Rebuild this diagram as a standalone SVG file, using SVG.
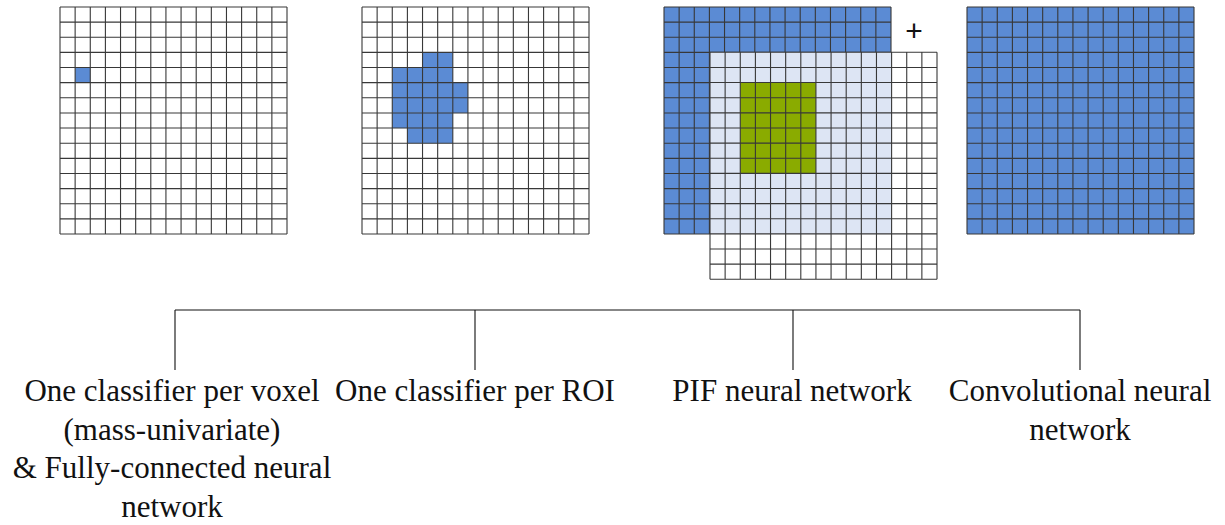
<svg xmlns="http://www.w3.org/2000/svg" xmlns:xlink="http://www.w3.org/1999/xlink" width="1225" height="525" viewBox="0 0 1225 525">
<style>
.grid{fill:none;stroke:#383838;stroke-width:1.1}
.blue{fill:#5b8bd4}
.light{fill:#dde5f4}
.green{fill:#8aab00}
.white{fill:#ffffff}
.lbl{font-size:31px;fill:#111;text-anchor:middle}
.conn{stroke:#111;stroke-width:1.1;fill:none}
</style>
<defs>
<path id="gl" d="M0 0V227M15.13 0V227M30.27 0V227M45.4 0V227M60.53 0V227M75.67 0V227M90.8 0V227M105.93 0V227M121.07 0V227M136.2 0V227M151.33 0V227M166.47 0V227M181.6 0V227M196.73 0V227M211.87 0V227M227 0V227M0 0H227M0 15.13H227M0 30.27H227M0 45.4H227M0 60.53H227M0 75.67H227M0 90.8H227M0 105.93H227M0 121.07H227M0 136.2H227M0 151.33H227M0 166.47H227M0 181.6H227M0 196.73H227M0 211.87H227M0 227H227"/>
</defs>
<rect width="1225" height="525" fill="#ffffff"/>
<g id="grid-voxel">
<rect class="white" x="60" y="7" width="227" height="227"/>
<rect class="blue" x="75.13" y="67.53" width="15.13" height="15.13"/>
<use href="#gl" xlink:href="#gl" class="grid" x="60" y="7"/>
</g>
<g id="grid-roi">
<rect class="white" x="362" y="7" width="227" height="227"/>
<rect class="blue" x="422.53" y="52.4" width="30.27" height="15.13"/>
<rect class="blue" x="392.27" y="67.53" width="60.53" height="15.13"/>
<rect class="blue" x="392.27" y="82.67" width="75.67" height="30.27"/>
<rect class="blue" x="392.27" y="112.93" width="60.53" height="15.13"/>
<rect class="blue" x="407.4" y="128.07" width="45.4" height="15.13"/>
<use href="#gl" xlink:href="#gl" class="grid" x="362" y="7"/>
</g>
<g id="grid-pif">
<rect class="blue" x="664" y="7" width="227" height="227"/>
<use href="#gl" xlink:href="#gl" class="grid" x="664" y="7"/>
<rect class="white" x="710" y="52.3" width="227" height="227"/>
<rect class="light" x="710" y="52.3" width="181.6" height="181.6"/>
<rect class="green" x="740.27" y="82.57" width="75.67" height="90.8"/>
<use href="#gl" xlink:href="#gl" class="grid" x="710" y="52.3"/>
<text x="914" y="41" font-family="Liberation Sans, Arial, sans-serif" font-size="30" text-anchor="middle" fill="#111">+</text>
</g>
<g id="grid-cnn">
<rect class="blue" x="967" y="7" width="227" height="227"/>
<use href="#gl" xlink:href="#gl" class="grid" x="967" y="7"/>
</g>
<g id="connectors">
<path class="conn" d="M175 310H1080M175 310V370M475 310V370M793 310V370M1080 310V370"/>
</g>
<g id="labels" font-family="'Liberation Serif', 'Times New Roman', Times, serif">
<g id="label-voxel">
<text class="lbl" x="172" y="401">One classifier per voxel</text>
<text class="lbl" x="172" y="440">(mass-univariate)</text>
<text class="lbl" x="172" y="478">&amp; Fully-connected neural</text>
<text class="lbl" x="172" y="517">network</text>
</g>
<g id="label-roi">
<text class="lbl" x="475" y="401">One classifier per ROI</text>
</g>
<g id="label-pif">
<text class="lbl" x="792" y="401">PIF neural network</text>
</g>
<g id="label-cnn">
<text class="lbl" x="1080" y="401">Convolutional neural</text>
<text class="lbl" x="1080" y="440">network</text>
</g>
</g>
</svg>
